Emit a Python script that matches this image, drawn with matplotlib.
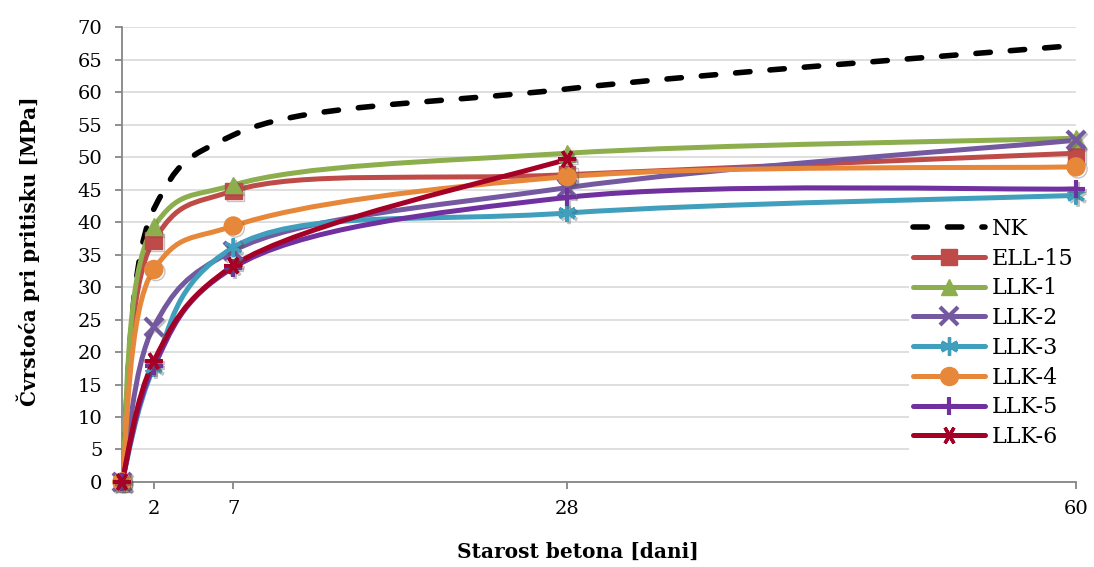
import numpy as np
import matplotlib
matplotlib.use("Agg")
import matplotlib.pyplot as plt
from matplotlib.path import Path
from matplotlib.patches import PathPatch
from matplotlib.lines import Line2D
import matplotlib.patheffects as pe

plt.rcParams['font.family'] = ['DejaVu Serif']

ages = [0, 2, 7, 28, 60]
nk = [0, 42.0, 53.4, 60.5, 67.2]
ell15 = [0, 37.2, 44.8, 47.3, 50.6]
llk1 = [0, 39.3, 45.7, 50.6, 52.9]
llk2 = [0, 23.9, 35.6, 45.3, 52.6]
llk3 = [0, 17.6, 36.1, 41.4, 44.1]
llk4 = [0, 32.7, 39.4, 47.0, 48.5]
llk5 = [0, 17.8, 33.0, 43.8, 45.1]
llk6_ages = [0, 2, 7, 28]
llk6 = [0, 18.6, 33.3, 49.7]

series = [
    ("NK", ages, nk, "#000000", None),
    ("ELL-15", ages, ell15, "#BE4B48", "s"),
    ("LLK-1", ages, llk1, "#8CAE4C", "^"),
    ("LLK-2", ages, llk2, "#7458A0", "x"),
    ("LLK-3", ages, llk3, "#3F9FBD", "asterisk"),
    ("LLK-4", ages, llk4, "#E6873A", "o"),
    ("LLK-5", ages, llk5, "#7030A0", "+"),
    ("LLK-6", llk6_ages, llk6, "#A50026", "asterisk2"),
]

fig = plt.figure(figsize=(10.94, 5.67), dpi=100)
ax = fig.add_axes([0.1115, 0.150, 0.872, 0.802])
ax.set_xlim(0, 60)
ax.set_ylim(0, 70)


def _unit(v):
    n = np.linalg.norm(v)
    return v / n if n > 0 else v * 0


def smooth_path(xs, ys):
    """Smoothed line through the points (Bezier in screen space, tangent
    along the bisector of adjacent chords, handles limited to half a segment)."""
    pts = ax.transData.transform(np.column_stack([xs, ys]).astype(float))
    n = len(pts)
    tang = []
    for i in range(n):
        a = _unit(pts[i] - pts[i - 1]) if i > 0 else np.zeros(2)
        b = _unit(pts[i + 1] - pts[i]) if i < n - 1 else np.zeros(2)
        tang.append(_unit(a + b))
    verts = [pts[0]]
    codes = [Path.MOVETO]
    for i in range(n - 1):
        p1, p2 = pts[i], pts[i + 1]
        p0 = pts[i - 1] if i > 0 else p1
        p3 = pts[i + 2] if i + 2 < n else p2
        seg = np.linalg.norm(p2 - p1)
        l1 = min(np.linalg.norm(p2 - p0) / 6.0, seg / 2)
        l2 = min(np.linalg.norm(p3 - p1) / 6.0, seg / 2)
        verts += [p1 + tang[i] * l1, p2 - tang[i + 1] * l2, p2]
        codes += [Path.CURVE4] * 3
    data_verts = ax.transData.inverted().transform(np.array(verts))
    return Path(data_verts, codes)


shadow = [pe.SimpleLineShadow(offset=(1.5, -1.5), shadow_color='#555555', alpha=0.35),
          pe.Normal()]
dash = (0, (2.6, 3.6))
handles = []
for name, xs, ys, col, mk in series:
    if mk is None:
        patch = PathPatch(smooth_path(xs, ys), facecolor='none', edgecolor=col,
                          lw=4.0, linestyle=dash, capstyle='round', zorder=3)
        ax.add_patch(patch)
        h = Line2D([], [], color=col, lw=4.0, linestyle=dash, dash_capstyle='round')
    else:
        patch = PathPatch(smooth_path(xs, ys), facecolor='none', edgecolor=col,
                          lw=3.6, zorder=3)
        ax.add_patch(patch)
        if mk in ("asterisk", "asterisk2"):
            marker = (6, 2, 0) if mk == "asterisk" else (6, 2, 90)
            kw = dict(marker=marker, ms=13, mec=col, mew=2.4)
        elif mk in ("x", "+"):
            kw = dict(marker=mk, ms=13, mec=col, mew=3)
        else:
            ms = 12 if mk != "o" else 13
            kw = dict(marker=mk, ms=ms, mfc=col, mec=col)
        ax.plot(xs, ys, linestyle='none', zorder=4, clip_on=False,
                path_effects=shadow, **kw)
        h = Line2D([], [], color=col, lw=3.6, solid_capstyle='round', **kw)
    handles.append((h, name))

ax.set_xticks([2, 7, 28, 60])
ax.set_yticks(np.arange(0, 71, 5))
ax.yaxis.grid(True, color='#D9D9D9', lw=1.2)
ax.set_axisbelow(True)
for s in ['top', 'right']:
    ax.spines[s].set_visible(False)
for s in ['left', 'bottom']:
    ax.spines[s].set_color('#868686')
    ax.spines[s].set_linewidth(1.3)
ax.tick_params(axis='both', colors='#868686', length=5, width=1.3,
               labelcolor='black', labelsize=14)
ax.tick_params(axis='x', pad=8)
ax.tick_params(axis='y', pad=9)

fig.text(578 / 1094, 1 - 552 / 567, "Starost betona [dani]", fontsize=14.5,
         fontweight='bold', ha='center', va='center')
fig.text(28 / 1094, 1 - 251 / 567, "Čvrstoća pri pritisku [MPa]", fontsize=14.5,
         fontweight='bold', ha='center', va='center', rotation=90)

leg = ax.legend([h for h, _ in handles], [n for _, n in handles],
                loc='lower right', bbox_to_anchor=(1.014, 0.04), frameon=True,
                facecolor='white', edgecolor='none', framealpha=1,
                fontsize=16, handlelength=3.25, labelspacing=0.35,
                handletextpad=0.3, borderpad=0.2)
leg.set_zorder(5)
fig.savefig("out.png", dpi=100)
